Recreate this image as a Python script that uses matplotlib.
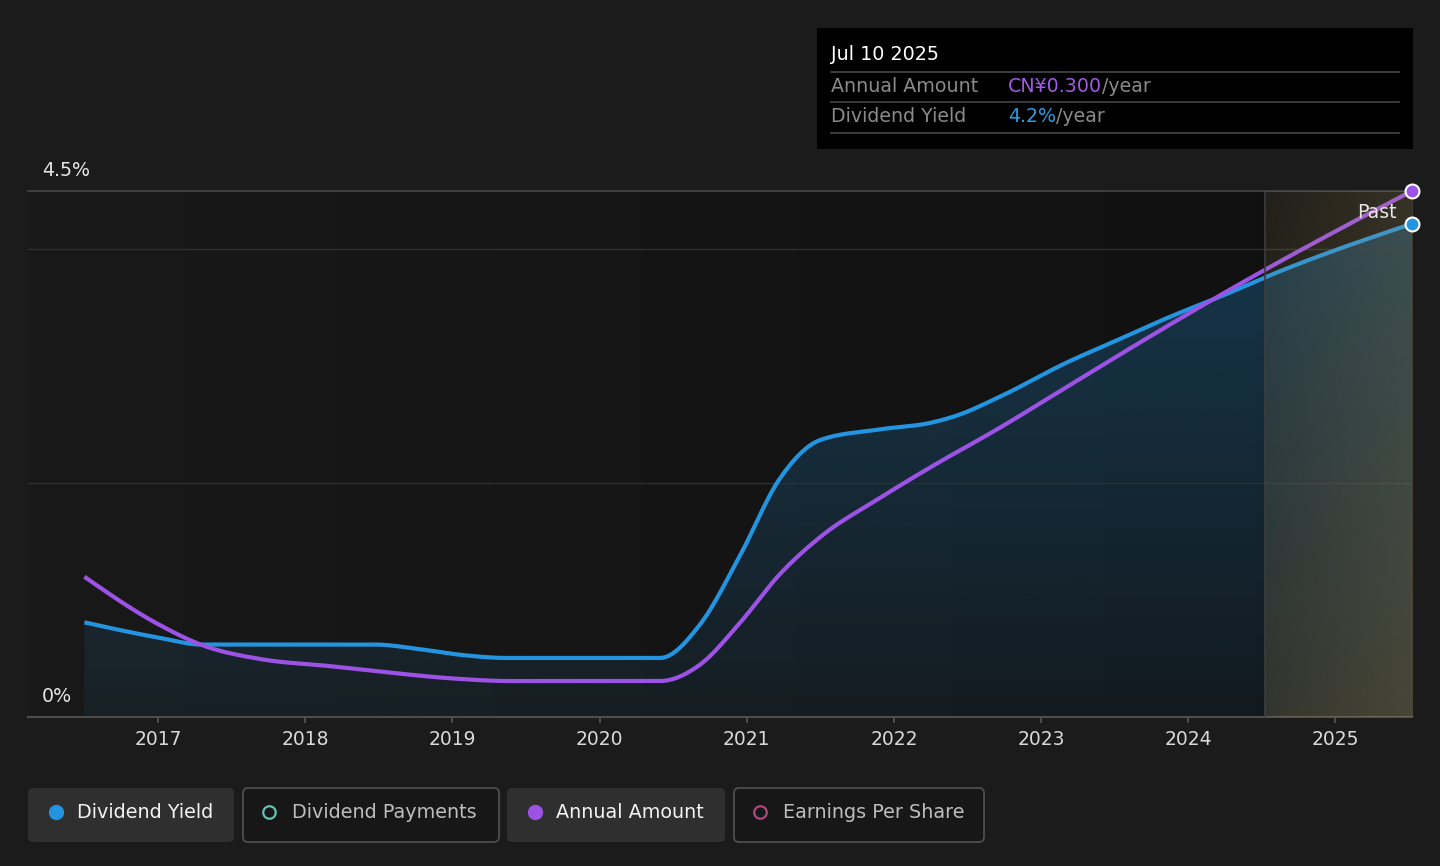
import numpy as np
import matplotlib
matplotlib.use("Agg")
import matplotlib.pyplot as plt
from matplotlib.patches import Polygon, FancyBboxPatch, Rectangle

# dividend yield (%)
yield_x = [2016.50, 2017.00, 2017.30, 2018.00, 2018.47, 2018.78, 2019.07, 2019.37,
           2020.00, 2020.41, 2020.68, 2020.95, 2021.22, 2021.50, 2021.90, 2022.26,
           2022.43, 2022.72, 2023.17, 2023.51, 2023.85, 2024.30, 2024.52, 2025.52]
yield_v = [0.81, 0.68, 0.62, 0.62, 0.62, 0.58, 0.53, 0.505,
           0.505, 0.505, 0.787, 1.37, 2.03, 2.37, 2.46, 2.52,
           2.58, 2.74, 3.03, 3.22, 3.41, 3.64, 3.76, 4.22]

# annual dividend amount (CN¥)
amount_x = [2016.50, 2017.00, 2017.30, 2017.70, 2018.17, 2018.50, 2019.00, 2019.40,
            2020.00, 2020.41, 2020.68, 2020.95, 2021.22, 2021.50, 2021.90, 2022.26,
            2022.72, 2023.17, 2023.62, 2024.00, 2024.52, 2025.00, 2025.52]
amount_v = [0.080, 0.053, 0.041, 0.033, 0.029, 0.026, 0.022, 0.0205,
            0.0205, 0.0205, 0.0297, 0.0533, 0.081, 0.1027, 0.1247, 0.143,
            0.165, 0.188, 0.211, 0.230, 0.255, 0.277, 0.300]

year_ticks = list(range(2017, 2026))
past_start = 2024.52
y_max = 4.5

BLUE = "#2394df"
PURPLE = "#9d52e6"


def monotone_x(x, y, num=800):
    # same idea as d3.curveMonotoneX
    x = np.asarray(x, float)
    y = np.asarray(y, float)
    h = np.diff(x)
    s = np.diff(y) / h
    t = np.zeros_like(y)
    for i in range(1, len(x) - 1):
        h0, h1 = h[i - 1], h[i]
        s0, s1 = s[i - 1], s[i]
        p = (s0 * h1 + s1 * h0) / (h0 + h1)
        t[i] = (np.sign(s0) + np.sign(s1)) * min(abs(s0), abs(s1), 0.5 * abs(p))
    t[0] = (3 * s[0] - t[1]) / 2
    t[-1] = (3 * s[-1] - t[-2]) / 2
    xs = np.linspace(x[0], x[-1], num)
    idx = np.clip(np.searchsorted(x, xs, side="right") - 1, 0, len(x) - 2)
    hh = h[idx]
    u = (xs - x[idx]) / hh
    h00 = 2 * u**3 - 3 * u**2 + 1
    h10 = u**3 - 2 * u**2 + u
    h01 = -2 * u**3 + 3 * u**2
    h11 = u**3 - u**2
    ys = h00 * y[idx] + h10 * hh * t[idx] + h01 * y[idx + 1] + h11 * hh * t[idx + 1]
    return xs, ys


fig = plt.figure(figsize=(14.4, 8.66), dpi=100, facecolor="#1b1b1b")
x0, x1 = 2016.117, 2025.52
ax = fig.add_axes([28 / 1440, 1 - 717 / 866, 1384 / 1440, 526 / 866])
ax.set_facecolor("#151515")

# plot background: slight left-to-right darkening
bg = np.zeros((2, 256, 3))
bg[:, :, :] = np.linspace(25, 16, 256)[None, :, None] / 255
ax.imshow(bg, extent=(x0, x1, 0, y_max), origin="lower", aspect="auto", zorder=0)

# yield area with vertical alpha gradient
bx, by = monotone_x(yield_x, yield_v)
verts = np.column_stack([np.r_[bx, bx[-1], bx[0]], np.r_[by, 0, 0]])
poly = Polygon(verts, closed=True, facecolor="none", edgecolor="none")
ax.add_patch(poly)
fill = np.zeros((256, 2, 4))
fill[:, :, 0] = 35 / 255
fill[:, :, 1] = 150 / 255
fill[:, :, 2] = 225 / 255
fill[:, :, 3] = np.linspace(0.07, 0.30, 256)[:, None]
im = ax.imshow(fill, extent=(x0, x1, 0, y_max), origin="lower", aspect="auto", zorder=1)
im.set_clip_path(poly)

# grid
for g in (2, 4):
    ax.axhline(g, color="#2f2f2f", lw=1, zorder=1.5)
ax.axhline(4.5, color="#474747", lw=1.2, zorder=1.5, clip_on=False)
ax.axhline(0, color="#4d4d4d", lw=1.5, zorder=1.5, clip_on=False)

# lines
scale = y_max / max(amount_v)
px, py = monotone_x(amount_x, np.array(amount_v) * scale)
ax.plot(bx, by, color=BLUE, lw=3, zorder=3, solid_capstyle="butt")
ax.plot(px, py, color=PURPLE, lw=3, zorder=3, solid_capstyle="butt")

# past shaded region (drawn over lines)
nx, ny = 200, 200
gx = np.linspace(0, 1, nx)[None, :]
gy = np.linspace(0, 1, ny)[:, None]  # row 0 = top
w = 0.55 * gx + 0.45 * gy
past = np.zeros((ny, nx, 4))
past[:, :, 0] = 170 / 255
past[:, :, 1] = 150 / 255
past[:, :, 2] = 100 / 255
past[:, :, 3] = 0.12 + 0.24 * w
ax.imshow(past, extent=(past_start, x1, 0, y_max), origin="upper", aspect="auto", zorder=4)
ax.axvline(past_start, color="#3d3d3d", lw=1.2, zorder=4.5)

# end markers
ax.plot([yield_x[-1]], [yield_v[-1]], "o", ms=10, color=BLUE, mec="white", mew=1.5,
        zorder=6, clip_on=False)
ax.plot([amount_x[-1]], [amount_v[-1] * scale], "o", ms=10, color=PURPLE, mec="white",
        mew=1.5, zorder=6, clip_on=False)

ax.set_xlim(x0, x1)
ax.set_ylim(0, y_max)
ax.set_xticks(year_ticks)
ax.set_xticklabels([str(y) for y in year_ticks])
ax.set_yticks([])
ax.tick_params(axis="x", colors="#555555", length=4.5, width=1.2, pad=5,
               labelcolor="#d9d9d9", labelsize=13.5)
for sp in ax.spines.values():
    sp.set_visible(False)

# overlay in pixel coordinates
ov = fig.add_axes([0, 0, 1, 1])
ov.set_xlim(0, 1440)
ov.set_ylim(866, 0)
ov.axis("off")

ov.text(42, 171, "4.5%", color="#e6e6e6", fontsize=13.7, va="center", ha="left")
ov.text(42, 697, "0%", color="#e6e6e6", fontsize=13.7, va="center", ha="left")
ov.text(1397, 212, "Past", color="#e6e6e6", fontsize=13.7, va="center", ha="right", zorder=10)

# tooltip
ov.add_patch(Rectangle((817, 28), 596, 121, facecolor="black", edgecolor="none"))
for ly in (72, 102, 133):
    ov.plot([831, 1399], [ly, ly], color="#464646", lw=1.2)
ov.text(831, 55, "Jul 10 2025", color="white", fontsize=13.8, va="center")
renderer = fig.canvas.get_renderer()


def text_run(x, y, parts, size=13.7):
    for s, c in parts:
        t = ov.text(x, y, s, color=c, fontsize=size, va="center", ha="left")
        bb = t.get_window_extent(renderer=renderer)
        x = ov.transData.inverted().transform((bb.x1, bb.y0))[0]


ov.text(831, 86, "Annual Amount", color="#8a8a8a", fontsize=13.7, va="center")
text_run(1008, 86, [("CN¥0.300", "#a35ae8"), ("/year", "#8a8a8a")])
ov.text(831, 116, "Dividend Yield", color="#8a8a8a", fontsize=13.7, va="center")
text_run(1008, 116, [("4.2%", "#2d9be3"), ("/year", "#8a8a8a")])

# legend buttons
buttons = [
    (28, 234, "Dividend Yield", BLUE, True),
    (243, 499, "Dividend Payments", "#5ec4b0", False),
    (507, 725, "Annual Amount", PURPLE, True),
    (734, 984, "Earnings Per Share", "#b0487c", False),
]
for bx0, bx1, label, col, active in buttons:
    if active:
        box = FancyBboxPatch((bx0, 788), bx1 - bx0, 54, boxstyle="round,pad=0,rounding_size=5",
                             facecolor="#2f2f2f", edgecolor="none")
        ov.plot([bx0 + 28], [812], "o", ms=10, color=col, mec=col)
        tc = "#f2f2f2"
    else:
        box = FancyBboxPatch((bx0, 788), bx1 - bx0, 54, boxstyle="round,pad=0,rounding_size=5",
                             facecolor="#171717", edgecolor="#4e4e4e", lw=1.3)
        ov.plot([bx0 + 26], [812], "o", ms=9, mfc="none", mec=col, mew=1.6)
        tc = "#bdbdbd"
    ov.add_patch(box)
    ov.text(bx0 + 49, 812, label, color=tc, fontsize=13.8, va="center", ha="left")

fig.savefig("out.png", dpi=100, facecolor=fig.get_facecolor())
